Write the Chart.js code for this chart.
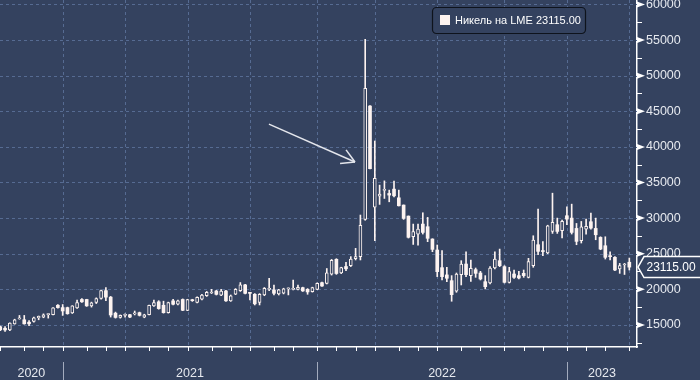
<!DOCTYPE html>
<html><head><meta charset="utf-8">
<script src="https://cdn.jsdelivr.net/npm/chart.js@4.4.0/dist/chart.umd.min.js"></script>
<style>html,body{margin:0;padding:0;background:#34425f;overflow:hidden}#wrap{width:700px;height:380px}</style>
</head><body><div id="wrap"><canvas id="c" width="700" height="380"></canvas></div>
<script>
// ---- data (weekly bars, weeks starting Monday 2020-09-28) ----
const seriesName = 'Никель на LME';
const firstWeek = '2020-09-28';
const openP = [14750,14530,14290,15150,15850,15720,15380,15480,16000,16100,16450,16430,17760,17430,17430,16670,17380,18570,18570,17670,
18140,18710,19810,18900,16650,16050,16330,16430,16550,16720,16100,16430,17670,18240,17760,16720,18380,17900,18570,17050,
18500,18140,18620,19100,19480,19760,19190,19760,18380,19330,19810,20620,19500,19300,18150,19210,20000,19910,19350,19440,
20050,20000,20000,20230,20000,19680,20000,20930,20830,22130,24210,22310,23200,23330,24300,24580,29830,45740,31520,33090,
33900,33460,34070,32850,31830,30280,27390,27760,29160,28790,27060,25520,23040,22020,21210,19720,22060,23550,21920,22760,
22290,21070,20880,22990,24020,23180,20980,22150,21920,22240,21680,23320,26260,25430,25100,28130,29070,28220,30330,30000,
28550,26820,28460,29490,28550,27290,26120,24720,24490,22850,23410,23800];
const highP = [14850,14760,15300,15800,16330,16330,15620,16100,16250,16550,16570,17450,17860,17860,17500,17700,18480,18710,18600,18200,
18800,19900,20240,19000,16800,16400,16570,16500,16950,16800,16500,17800,18500,18400,18330,18200,18600,18500,18650,18600,
18600,18950,19300,19700,20000,19850,20000,19850,19200,20100,20950,20700,19550,19400,19400,20250,21530,20600,20000,20150,
20200,21300,20600,20300,20100,20300,20900,21000,22920,24200,24300,23100,23800,24590,25750,30430,55110,45800,40830,34630,
35230,33930,35190,33930,31850,30300,29160,29160,30750,30100,27100,26220,25430,23090,21920,22290,24020,25280,24110,22990,
22520,21920,23180,25280,25650,23320,23090,22710,22520,22710,24350,27520,31260,26690,29000,33500,30000,29720,31590,31960,
29250,29530,29860,30700,30000,27380,27380,25280,24580,23640,23640,24390];
const lowP = [14200,14100,14200,15100,15800,15100,14900,15400,15720,16000,15950,16400,17350,16330,16500,16600,17300,18150,17600,17500,
18000,18600,18400,16100,15950,15950,16100,16000,16400,16250,16000,16400,17600,17200,16650,16650,17800,17800,17000,17000,
18300,18100,18500,19000,19400,19200,19100,18300,18300,19250,19700,19350,18500,17800,17800,19100,19800,19210,19200,19350,
19210,19900,19900,19700,19300,19600,19950,20400,20750,22000,22100,22200,22600,23190,24120,24120,29700,36900,26830,31920,
32760,32290,32990,31700,29820,27200,26300,26200,27760,26690,25280,21780,21320,21080,18320,19580,20610,21780,21120,21680,
21310,20050,20740,22850,23180,20880,20880,21540,21450,21680,21590,23090,24860,24720,25000,27850,27850,27200,29070,27760,
26260,26500,27760,28460,26960,25560,24250,24110,22620,22240,22080,22710];
const closeP = [14300,14290,15240,15720,15900,15150,15150,16000,16190,16430,16480,17380,17430,16950,16570,17670,18140,18240,17670,18100,
18710,19810,18900,16390,16050,16330,16400,16100,16650,16340,16430,17760,18140,17290,16720,18140,17900,18380,17050,18570,
18400,18860,19190,19570,19620,19290,19760,18380,19100,20000,20620,19430,19430,17960,19300,20140,20100,19440,19910,20050,
20140,20050,20280,19770,19630,20230,20830,20460,22310,24070,22220,23060,22880,24260,24580,29000,48230,36940,35590,33370,
34020,33230,33130,31730,29960,27300,28090,28460,27990,27160,25610,22480,21780,21550,19250,22150,23550,22060,22940,22240,
21450,20370,22990,24250,23320,20980,22480,21680,21590,21920,23880,26920,25330,25300,28900,29390,28130,29530,29860,27990,
26730,28780,28830,28600,27660,25650,24490,24580,22710,23320,23500,23115];
const yTickValues = [15000,20000,25000,30000,35000,40000,45000,50000,55000,60000];
const yMinorTicks = [12500,17500,22500,27500,32500,37500,42500,47500,52500,57500];
// arrow annotation in data coordinates (bar index, price)
const arrowFrom = {x: 55.96, y: 43200};
const arrowTo = {x: 73.87, y: 37880};

// ---- style ----
const BG = '#34425f', FG = '#fdf3f0', GRID = '#566b92', TXT = '#e6e9ef';
const FONT = "'Liberation Sans', Arial, sans-serif";
const X_MIN = -0.05, X_MAX = 132.6, Y_MIN = 11896, Y_MAX = 60632;

const DAY = 864e5;
const t0 = Date.parse(firstWeek + 'T00:00:00Z');
const idx = openP.map((_, i) => i);
const up = idx.map(i => closeP[i] >= openP[i]);
const wickData = idx.map(i => ({x: i, y: [lowP[i], highP[i]]}));
const bodyData = idx.map(i => ({x: i, y: [openP[i], closeP[i]]}));

// month marks: bar holding the first weekday of each month
function firstWeekday(y, m) { let t = Date.UTC(y, m, 1); while ([0,6].includes(new Date(t).getUTCDay())) t += DAY; return t; }
const monthMarks = [];
{ let y = new Date(t0).getUTCFullYear(), m = new Date(t0).getUTCMonth() + 1;
  if (m > 11) { m = 0; y++; }
  while (true) {
    const bar = Math.floor((firstWeekday(y, m) - t0) / (7 * DAY));
    if (bar > openP.length - 1) break;
    monthMarks.push({bar, y, m});
    m++; if (m > 11) { m = 0; y++; }
  }
}
const yearBounds = monthMarks.filter(k => k.m === 0);
const yearLabels = [String(yearBounds[0].y - 1)].concat(yearBounds.map(k => String(k.y)));
const edges = [X_MIN].concat(yearBounds.map(k => k.bar)).concat([X_MAX]);
const yearCenters = yearLabels.map((_, i) => (edges[i] + edges[i + 1]) / 2);

const bgPlugin = {
  id: 'bg',
  beforeDraw(chart) { const c = chart.ctx; c.save(); c.fillStyle = BG; c.fillRect(0, 0, chart.width, chart.height); c.restore(); },
  beforeDatasetsDraw(chart) {
    const c = chart.ctx, a = chart.chartArea, xs = chart.scales.x, ys = chart.scales.y;
    c.save(); c.strokeStyle = GRID; c.lineWidth = 1; c.setLineDash([3, 3]);
    yTickValues.forEach(v => { const p = Math.round(ys.getPixelForValue(v)) + 0.5; c.beginPath(); c.moveTo(a.left, p); c.lineTo(a.right, p); c.stroke(); });
    monthMarks.filter(k => k.m % 3 === 0 && k.bar > 0).forEach(k => { const p = Math.round(xs.getPixelForValue(k.bar)) + 0.5; c.beginPath(); c.moveTo(p, a.top); c.lineTo(p, a.bottom); c.stroke(); });
    c.restore();
  },
  afterDraw(chart) {
    const c = chart.ctx, a = chart.chartArea, xs = chart.scales.x, ys = chart.scales.y;
    c.save();
    // month ticks
    c.strokeStyle = '#ffffff'; c.lineWidth = 1;
    monthMarks.forEach(k => { const p = Math.round(xs.getPixelForValue(k.bar)) + 0.5; c.beginPath(); c.moveTo(p, a.bottom); c.lineTo(p, a.bottom + 4); c.stroke(); });
    // year separators
    c.strokeStyle = '#a3abbd';
    yearBounds.forEach(k => { const p = Math.round(xs.getPixelForValue(k.bar)) + 0.5; c.beginPath(); c.moveTo(p, a.bottom + 15); c.lineTo(p, chart.height); c.stroke(); });
    // y minor ticks
    c.strokeStyle = '#ffffff';
    yMinorTicks.forEach(v => { const p = Math.round(ys.getPixelForValue(v)) + 0.5; c.beginPath(); c.moveTo(a.right, p); c.lineTo(a.right + 5, p); c.stroke(); });
    // y major markers
    c.fillStyle = '#ffffff';
    yTickValues.forEach(v => { const p = ys.getPixelForValue(v); c.beginPath(); c.moveTo(a.right, p - 3); c.lineTo(a.right + 8, p); c.lineTo(a.right, p + 3); c.closePath(); c.fill(); });
    // arrow
    const x1 = xs.getPixelForValue(arrowFrom.x), y1 = ys.getPixelForValue(arrowFrom.y);
    const x2 = xs.getPixelForValue(arrowTo.x), y2 = ys.getPixelForValue(arrowTo.y);
    c.strokeStyle = '#e4e6ec'; c.lineWidth = 1.5;
    c.beginPath(); c.moveTo(x1, y1); c.lineTo(x2, y2); c.stroke();
    const ang = Math.atan2(y1 - y2, x1 - x2);
    [-0.52, 0.52].forEach(d => { c.beginPath(); c.moveTo(x2, y2); c.lineTo(x2 + 15 * Math.cos(ang + d), y2 + 15 * Math.sin(ang + d)); c.stroke(); });
    // last price tag
    const last = closeP[closeP.length - 1];
    const lp = ys.getPixelForValue(last);
    c.beginPath(); c.moveTo(a.right + 1, lp); c.lineTo(a.right + 7, lp - 10.5); c.lineTo(chart.width + 2, lp - 10.5);
    c.lineTo(chart.width + 2, lp + 10.5); c.lineTo(a.right + 7, lp + 10.5); c.closePath();
    c.fillStyle = BG; c.fill(); c.strokeStyle = '#ffffff'; c.lineWidth = 1.5; c.stroke();
    c.fillStyle = '#ffffff'; c.font = '12px ' + FONT; c.textBaseline = 'middle'; c.textAlign = 'left';
    c.fillText(last.toFixed(2), a.right + 9.5, lp + 0.5);
    // legend
    const lx = 432.5, ly = 7.5, lw = 153, lh = 26;
    c.beginPath(); c.roundRect(lx, ly, lw, lh, 4); c.fillStyle = BG; c.fill();
    c.strokeStyle = '#0e131c'; c.lineWidth = 1.2; c.stroke();
    c.fillStyle = FG; c.fillRect(lx + 7.5, ly + 7.5, 10, 10);
    c.fillStyle = '#ffffff'; c.font = '11px ' + FONT;
    c.fillText(seriesName + ' ' + last.toFixed(2), lx + 22.5, ly + 13.5);
    c.restore();
  }
};

new Chart(document.getElementById('c').getContext('2d'), {
  type: 'bar',
  data: { datasets: [
    { label: 'wick', data: wickData, backgroundColor: FG, borderWidth: 0, barThickness: 1, grouped: false, order: 2 },
    { label: seriesName, data: bodyData, backgroundColor: idx.map(i => up[i] ? BG : FG), borderColor: FG,
      borderWidth: idx.map(i => up[i] ? 1 : 0), borderSkipped: false, barThickness: 3, minBarLength: 1, grouped: false, order: 1 }
  ]},
  options: {
    responsive: false, animation: false, devicePixelRatio: 1,
    layout: { padding: 0 },
    plugins: { legend: { display: false }, tooltip: { enabled: false } },
    scales: {
      x: { type: 'linear', min: X_MIN, max: X_MAX, offset: false,
        grid: { display: false, drawTicks: false },
        border: { display: true, color: '#ffffff', width: 1.5 },
        ticks: { color: TXT, font: { family: FONT, size: 12.5 }, padding: 19, maxRotation: 0, autoSkip: false,
          callback: (v, i) => yearLabels[i] },
        afterBuildTicks: s => { s.ticks = yearCenters.map(v => ({ value: v })); },
        afterFit: s => { s.height = 33; s.paddingLeft = 0; s.paddingRight = 0; } },
      y: { position: 'right', min: Y_MIN, max: Y_MAX,
        grid: { display: false, drawTicks: false },
        border: { display: true, color: '#ffffff', width: 1.5 },
        ticks: { color: TXT, font: { family: FONT, size: 12.5 }, padding: 9, callback: v => String(v) },
        afterBuildTicks: s => { s.ticks = yTickValues.map(v => ({ value: v })); },
        afterFit: s => { s.width = 63; s.paddingTop = 0; s.paddingBottom = 0; } }
    }
  },
  plugins: [bgPlugin]
});
</script></body></html>
